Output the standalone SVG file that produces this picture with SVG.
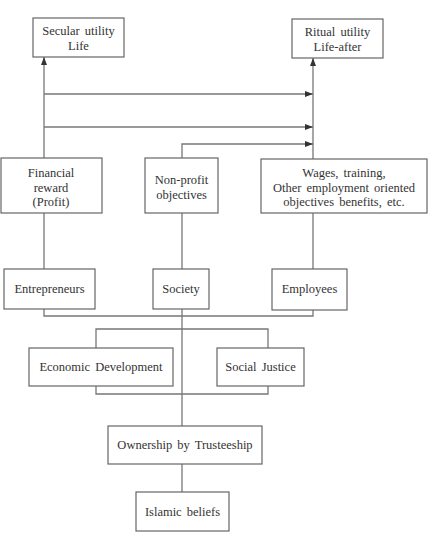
<svg xmlns="http://www.w3.org/2000/svg" width="430" height="535" viewBox="0 0 430 535" font-family="Liberation Serif, DejaVu Serif, serif">
<defs>
<marker id="ah" viewBox="0 0 8 6" refX="8" refY="3" markerWidth="8" markerHeight="6" markerUnits="userSpaceOnUse" orient="auto">
<path d="M0,0 L8,3 L0,6 Z" fill="#333"/>
</marker>
</defs>
<style>
.box{fill:#fff;stroke:#666;stroke-width:1.2}
.ln{fill:none;stroke:#777;stroke-width:1.3}
text{font-size:12.5px;fill:#333;text-anchor:middle;word-spacing:2px}
</style>
<rect width="430" height="535" fill="#fff"/>
<g id="connectors">
<path class="ln" d="M44,158 V57" marker-end="url(#ah)"/>
<path class="ln" d="M44,94 H313" marker-end="url(#ah)"/>
<path class="ln" d="M44,127 H313" marker-end="url(#ah)"/>
<path class="ln" d="M313,159 V58" marker-end="url(#ah)"/>
<path class="ln" d="M182,158 V144 H313" marker-end="url(#ah)"/>
<path class="ln" d="M44,213 V269"/>
<path class="ln" d="M182,213 V269"/>
<path class="ln" d="M313,213 V269"/>
<path class="ln" d="M44,309 V316 H313 V310"/>
<path class="ln" d="M182,309 V426"/>
<path class="ln" d="M96,348 V329 H268 V348"/>
<path class="ln" d="M96,386 V394 H268 V386"/>
<path class="ln" d="M182,464 V492"/>
</g>
<g id="secular"><rect class="box" x="33" y="18" width="91" height="39"/><text x="78.5" y="35">Secular utility</text><text x="78.5" y="50">Life</text></g>
<g id="ritual"><rect class="box" x="292" y="19" width="91" height="39"/><text x="337.5" y="36">Ritual utility</text><text x="337.5" y="51">Life-after</text></g>
<g id="financial"><rect class="box" x="1" y="158" width="101" height="55"/><text x="51" y="177">Financial</text><text x="51" y="191.5">reward</text><text x="51" y="206">(Profit)</text></g>
<g id="nonprofit"><rect class="box" x="145" y="158" width="73" height="55"/><text x="181.5" y="184">Non-profit</text><text x="181.5" y="198.5">objectives</text></g>
<g id="wages"><rect class="box" x="261" y="159" width="166" height="54"/><text x="344" y="177">Wages, training,</text><text x="344" y="191.5">Other employment oriented</text><text x="344" y="206">objectives benefits, etc.</text></g>
<g id="entrepreneurs"><rect class="box" x="4" y="269" width="91" height="40"/><text x="49.5" y="293">Entrepreneurs</text></g>
<g id="society"><rect class="box" x="153" y="269" width="56" height="40"/><text x="181" y="293">Society</text></g>
<g id="employees"><rect class="box" x="272" y="269" width="75" height="41"/><text x="309.5" y="293">Employees</text></g>
<g id="econ"><rect class="box" x="29" y="348" width="144" height="38"/><text x="101" y="371">Economic Development</text></g>
<g id="justice"><rect class="box" x="217" y="348" width="87" height="38"/><text x="260.5" y="371">Social Justice</text></g>
<g id="ownership"><rect class="box" x="108" y="426" width="154" height="38"/><text x="185" y="449">Ownership by Trusteeship</text></g>
<g id="islamic"><rect class="box" x="136" y="492" width="93" height="39"/><text x="182.5" y="516">Islamic beliefs</text></g>
</svg>
